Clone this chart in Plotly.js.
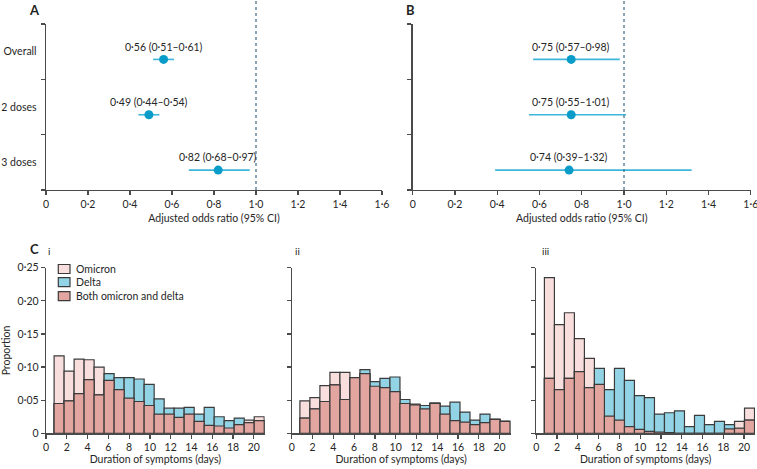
<!DOCTYPE html>
<html><head><meta charset="utf-8">
<script src="https://cdn.plot.ly/plotly-3.0.1.min.js"></script>
<style>html,body{margin:0;padding:0;background:#fff;}#chart{width:757px;height:469px;}</style>
</head><body><div id="chart"></div>
<script>
// ---- Panel A / B data (adjusted odds ratios) ----
const groups = ['Overall', '2 doses', '3 doses'];
const orA = [0.56, 0.49, 0.82];
const loA = [0.51, 0.44, 0.68];
const hiA = [0.61, 0.54, 0.97];
const orB = [0.75, 0.75, 0.74];
const loB = [0.57, 0.55, 0.39];
const hiB = [0.98, 1.01, 1.32];
const orTickVals = [0, 0.2, 0.4, 0.6, 0.8, 1.0, 1.2, 1.4, 1.6];
const orTickText = ['0', '0·2', '0·4', '0·6', '0·8', '1·0', '1·2', '1·4', '1·6'];

// ---- Panel C data (proportion by duration of symptoms) ----
const days = [1,2,3,4,5,6,7,8,9,10,11,12,13,14,15,16,17,18,19,20,21];
const omicronI   = [0.117,0.094,0.112,0.111,0.100,0.080,0.066,0.053,0.048,0.042,0.029,0.029,0.024,0.029,0.018,0.012,0.011,0.008,0.013,0.020,0.025];
const deltaI     = [0.045,0.049,0.060,0.081,0.058,0.090,0.084,0.084,0.082,0.074,0.052,0.038,0.038,0.039,0.029,0.039,0.025,0.019,0.023,0.016,0.019];
const omicronII  = [0.049,0.054,0.072,0.092,0.092,0.084,0.090,0.071,0.069,0.063,0.045,0.044,0.037,0.046,0.029,0.019,0.017,0.013,0.016,0.021,0.018];
const deltaII    = [0.023,0.037,0.048,0.073,0.051,0.084,0.096,0.078,0.083,0.085,0.051,0.043,0.042,0.045,0.041,0.047,0.032,0.020,0.029,0.021,0.018];
const omicronIII = [0.235,0.164,0.182,0.143,0.113,0.074,0.026,0.020,0.010,0.006,0.003,0.002,0.001,0.000,0.000,0.000,0.000,0.000,0.0066,0.018,0.038];
const deltaIII   = [0.083,0.066,0.083,0.093,0.069,0.098,0.066,0.098,0.080,0.057,0.054,0.029,0.031,0.034,0.010,0.027,0.013,0.018,0.013,0.0076,0.020];
const propTickVals = [0, 0.05, 0.10, 0.15, 0.20, 0.25];
const propTickText = ['0', '0·05', '0·10', '0·15', '0·20', '0·25'];
const dayTickVals = [0,2,4,6,8,10,12,14,16,18,20];
const dayTickText = ['0','2','4','6','8','10','12','14','16','18','20'];
const seriesNames = ['Omicron', 'Delta', 'Both omicron and delta'];
const panelNames = ['i', 'ii', 'iii'];

// ---- styling ----
const FONT = 'Lato, "Noto Sans", sans-serif';
const TXT = '#262626';
const AX = '#4a4a4a';
const colOmicron = '#f8dfde';
const colDelta = '#92d4e5';
const colBoth = '#e2a5a0';
const barLine = '#3b3b3b';
const dotCol = '#0a9cc8';
const ciCol = '#3db6d9';
const binStart = 0.78, binWidth = 0.963;

const fmt = v => v.toFixed(2).replace('.', '·');
const W = 757, H = 469;
const px = v => v / W;
const py = v => 1 - v / H;

const traces = [];
function forest(ors, los, his, xa, ya) {
  traces.push({
    type: 'scatter', mode: 'markers', xaxis: xa, yaxis: ya,
    x: ors, y: groups.map((g, i) => i + 0.64),
    marker: {color: dotCol, size: 9},
    error_x: {type: 'data', symmetric: false,
      array: ors.map((v, i) => his[i] - v),
      arrayminus: ors.map((v, i) => v - los[i]),
      color: ciCol, thickness: 1.6, width: 0},
    showlegend: false, hoverinfo: 'skip'
  });
}
forest(orA, loA, hiA, 'x', 'y');
forest(orB, loB, hiB, 'x2', 'y2');

const panels = [[omicronI, deltaI], [omicronII, deltaII], [omicronIII, deltaIII]];
const xc = days.map(d => binStart + (d - 1) * binWidth + binWidth / 2);
panels.forEach((p, k) => {
  const xa = 'x' + (k + 3), ya = 'y' + (k + 3);
  const both = p[0].map((v, i) => Math.min(v, p[1][i]));
  [[p[0], colOmicron, seriesNames[0]], [p[1], colDelta, seriesNames[1]], [both, colBoth, seriesNames[2]]]
    .forEach(([vals, col, nm]) => {
      traces.push({type: 'bar', xaxis: xa, yaxis: ya, x: xc, y: vals, width: binWidth, name: nm,
        marker: {color: col, line: {color: barLine, width: 1.2}}, showlegend: false, hoverinfo: 'skip'});
    });
});

const baseAxis = {showline: true, linecolor: AX, linewidth: 1.3, ticks: 'outside', ticklen: 4,
  tickcolor: AX, tickwidth: 1.2, showgrid: false, zeroline: false, ticklabeloverflow: 'allow',
  tickfont: {family: FONT, size: 10.5, color: TXT}, fixedrange: true};

const forestY = (showLabels) => Object.assign({}, baseAxis, {
  domain: [py(190), py(24)], range: [3, 0],
  tickmode: 'array', tickvals: [0.5, 1.5, 2.5], ticktext: groups, showticklabels: showLabels,
  ticklen: 6, tickcolor: 'rgba(0,0,0,0)',
  minor: {tickmode: 'array', tickvals: [0, 1, 2, 3], ticks: 'outside', ticklen: 4, tickcolor: AX, tickwidth: 1.2}
});
const forestX = (dom, ya) => Object.assign({}, baseAxis, {
  domain: dom, range: [0, 1.6], anchor: ya, tickmode: 'array', tickvals: orTickVals, ticktext: orTickText,
  title: {text: 'Adjusted odds ratio (95% CI)', font: {family: FONT, size: 10.5, color: TXT}, standoff: 5}
});
const histX = (dom, ya) => Object.assign({}, baseAxis, {
  domain: dom, range: [0, 21.05], anchor: ya, tickmode: 'array', tickvals: dayTickVals, ticktext: dayTickText,
  title: {text: 'Duration of symptoms (days)', font: {family: FONT, size: 10.5, color: TXT}, standoff: 3}
});
const histY = (xa, showLabels) => Object.assign({}, baseAxis, {
  domain: [py(433.3), py(267.7)], range: [0, 0.25], anchor: xa, tickmode: 'array',
  tickvals: propTickVals, ticktext: propTickText, showticklabels: showLabels
});

const layout = {
  width: W, height: H, margin: {l: 0, r: 0, t: 0, b: 0},
  paper_bgcolor: '#ffffff', plot_bgcolor: '#ffffff', barmode: 'overlay', bargap: 0,
  separators: '·,', showlegend: false,
  font: {family: FONT, size: 10, color: TXT},
  xaxis: forestX([px(46), px(382)], 'y'),
  yaxis: Object.assign(forestY(true), {anchor: 'x'}),
  xaxis2: forestX([px(412.7), px(750.8)], 'y2'),
  yaxis2: Object.assign(forestY(false), {anchor: 'x2'}),
  xaxis3: histX([px(46), px(264.7)], 'y3'),
  yaxis3: Object.assign(histY('x3', true), {title: {text: 'Proportion', font: {family: FONT, size: 10.5, color: TXT}, standoff: 6}}),
  xaxis4: histX([px(291.8), px(510.5)], 'y4'),
  yaxis4: histY('x4', false),
  xaxis5: histX([px(536.3), px(755)], 'y5'),
  yaxis5: histY('x5', false),
  shapes: [
    {type: 'line', xref: 'x', yref: 'paper', x0: 1, x1: 1, y0: py(190), y1: 1, line: {color: '#3e6a85', width: 1.2, dash: 'dot'}},
    {type: 'line', xref: 'x2', yref: 'paper', x0: 1, x1: 1, y0: py(190), y1: 1, line: {color: '#3e6a85', width: 1.2, dash: 'dot'}}
  ],
  annotations: []
};

// CI labels above the points
[[orA, loA, hiA, 'x', 'y'], [orB, loB, hiB, 'x2', 'y2']].forEach(([o, l, h, xa, ya]) => {
  o.forEach((v, i) => layout.annotations.push({
    xref: xa, yref: ya, x: v, y: i + 0.41, showarrow: false, xanchor: 'center', yanchor: 'middle',
    text: fmt(v) + ' (' + fmt(l[i]) + '–' + fmt(h[i]) + ')', font: {family: FONT, size: 10.5, color: TXT}
  }));
});

// panel letters
const addText = (text, x, y, size, bold, anchor) => layout.annotations.push({
  xref: 'paper', yref: 'paper', x: px(x), y: py(y), showarrow: false, xanchor: anchor || 'left', yanchor: 'middle',
  text: bold ? '<b>' + text + '</b>' : text, font: {family: FONT, size: size, color: '#231f20'}
});
addText('A', 27, 10, 13, true);
addText('B', 404, 10, 13, true);
addText('C', 28, 249, 13, true);
addText(panelNames[0], 46, 251, 10, false);
addText(panelNames[1], 293, 251, 10, false);
addText(panelNames[2], 540, 251, 10, false);

// legend (panel C i)
const legCols = [colOmicron, colDelta, colBoth];
const legY = [269, 282.2, 296.2];
seriesNames.forEach((nm, i) => {
  layout.shapes.push({type: 'rect', xref: 'paper', yref: 'paper', x0: px(58.3), x1: px(70), y0: py(legY[i] + 4.5), y1: py(legY[i] - 4.5),
    fillcolor: legCols[i], line: {color: barLine, width: 1.2}});
  layout.annotations.push({xref: 'paper', yref: 'paper', x: px(74), y: py(legY[i]), showarrow: false,
    xanchor: 'left', yanchor: 'middle', text: nm, font: {family: FONT, size: 10.5, color: TXT}});
});

Plotly.newPlot('chart', traces, layout, {staticPlot: true, displayModeBar: false});
</script>
</body></html>
